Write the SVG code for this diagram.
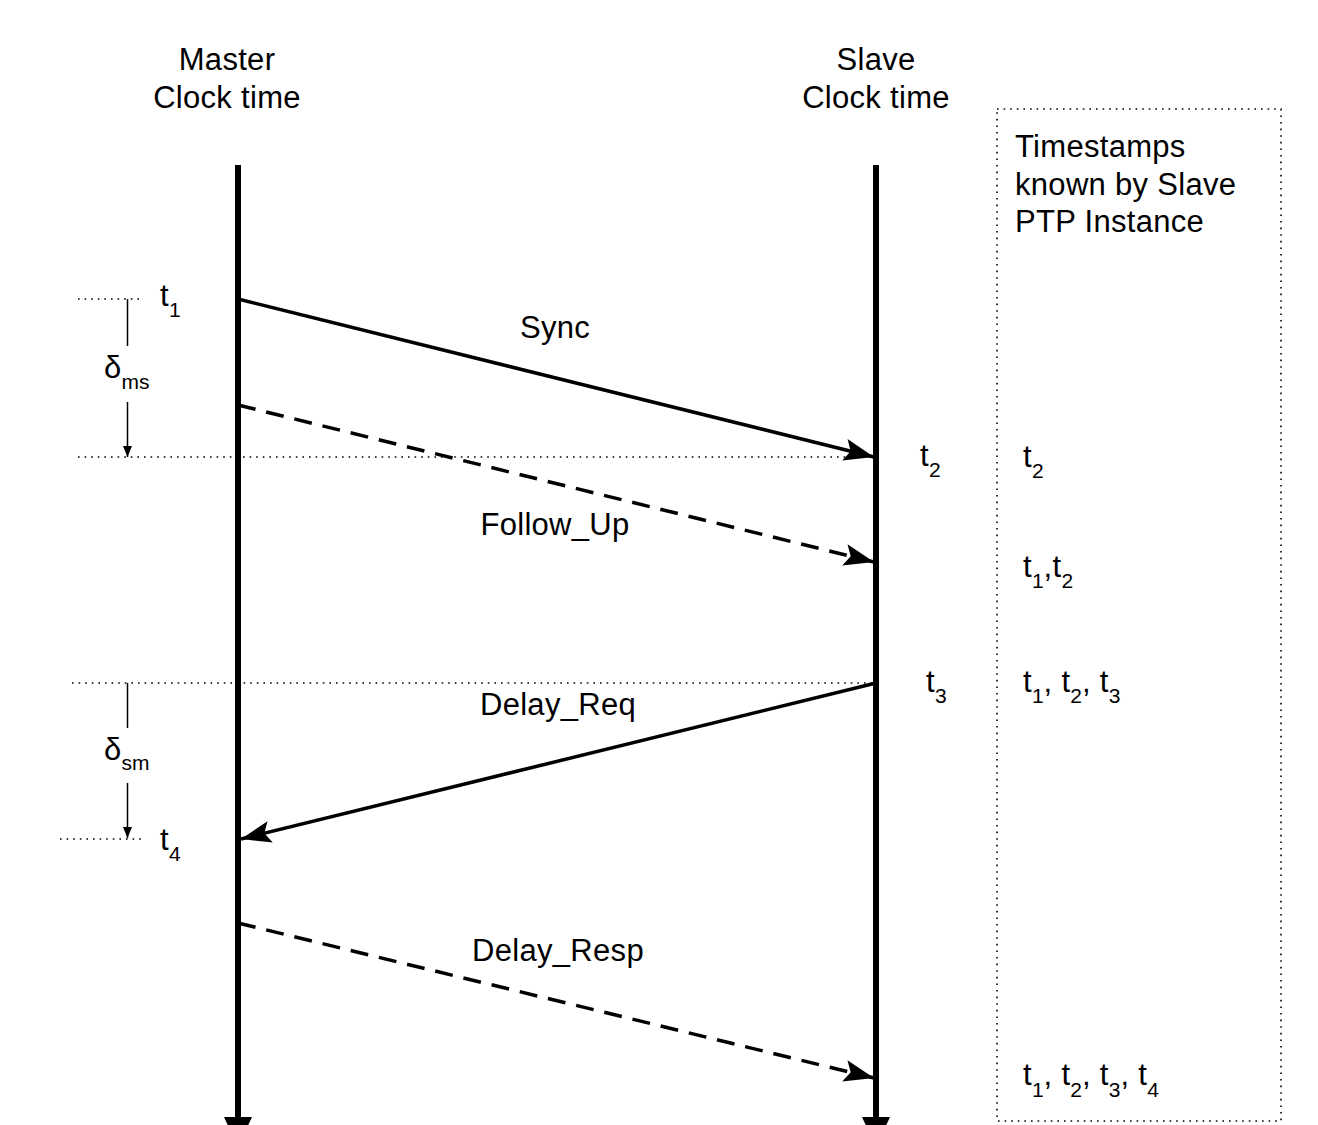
<svg xmlns="http://www.w3.org/2000/svg" width="1318" height="1125" viewBox="0 0 1318 1125">
<style>
text{font-family:"Liberation Sans",Arial,sans-serif;fill:#000}
.big{font-size:31px;letter-spacing:0.3px}
.sub{font-size:21px;letter-spacing:0}
.life{stroke:#000;stroke-width:6;fill:none}
.msg{stroke:#000;stroke-width:3.5;fill:none}
.dash{stroke-dasharray:18 11}
.dot{stroke:#000;stroke-width:1.6;stroke-dasharray:1.6 5;fill:none}
.thin{stroke:#000;stroke-width:1.5;fill:none}
</style>
<defs>
<marker id="ah" markerUnits="userSpaceOnUse" markerWidth="32" markerHeight="26" viewBox="0 0 32 26" refX="30" refY="13" orient="auto">
<path d="M0,2 L30,13 L0,24 L6,13 Z" fill="#000"/>
</marker>
<marker id="ahs" markerUnits="userSpaceOnUse" markerWidth="12" markerHeight="12" viewBox="0 0 12 12" refX="11" refY="6" orient="auto">
<path d="M0,1.5 L11,6 L0,10.5 Z" fill="#000"/>
</marker>
<marker id="ahl" markerUnits="userSpaceOnUse" markerWidth="32" markerHeight="32" viewBox="0 0 32 32" refX="2" refY="16" orient="auto">
<path d="M0,2 L30,16 L0,30 Z" fill="#000"/>
</marker>
</defs>
<rect width="1318" height="1125" fill="#fff"/>

<g id="master">
<text class="big" x="227" y="70" text-anchor="middle">Master</text>
<text class="big" x="227" y="108" text-anchor="middle">Clock time</text>
<line class="life" x1="238" y1="165" x2="238" y2="1119" marker-end="url(#ahl)"/>
</g>
<g id="slave">
<text class="big" x="876" y="70" text-anchor="middle">Slave</text>
<text class="big" x="876" y="108" text-anchor="middle">Clock time</text>
<line class="life" x1="876" y1="165" x2="876" y2="1119" marker-end="url(#ahl)"/>
</g>

<g id="timestamps-box">
<rect class="dot" x="997" y="109" width="284" height="1012"/>
<text class="big" x="1015" y="157">Timestamps</text>
<text class="big" x="1015" y="195">known by Slave</text>
<text class="big" x="1015" y="232">PTP Instance</text>
<text class="big" x="1023" y="467">t<tspan class="sub" dy="11">2</tspan></text>
<text class="big" x="1023" y="577">t<tspan class="sub" dy="11">1</tspan><tspan dy="-11">,t</tspan><tspan class="sub" dy="11">2</tspan></text>
<text class="big" x="1023" y="692">t<tspan class="sub" dy="11">1</tspan><tspan dy="-11">, t</tspan><tspan class="sub" dy="11">2</tspan><tspan dy="-11">, t</tspan><tspan class="sub" dy="11">3</tspan></text>
<text class="big" x="1023" y="1085">t<tspan class="sub" dy="12">1</tspan><tspan dy="-12">, t</tspan><tspan class="sub" dy="12">2</tspan><tspan dy="-12">, t</tspan><tspan class="sub" dy="12">3</tspan><tspan dy="-12">, t</tspan><tspan class="sub" dy="12">4</tspan></text>
</g>

<g id="time-labels">
<text class="big" x="160" y="306">t<tspan class="sub" dy="11">1</tspan></text>
<text class="big" x="920" y="466">t<tspan class="sub" dy="11">2</tspan></text>
<text class="big" x="926" y="692">t<tspan class="sub" dy="11">3</tspan></text>
<text class="big" x="160" y="850">t<tspan class="sub" dy="11">4</tspan></text>
<text class="big" x="104" y="378">δ<tspan class="sub" dy="11">ms</tspan></text>
<text class="big" x="104" y="760">δ<tspan class="sub" dy="10">sm</tspan></text>
</g>

<g id="connectors">
<line class="dot" x1="78" y1="299" x2="142" y2="299"/>
<line class="dot" x1="78" y1="457" x2="873" y2="457"/>
<line class="dot" x1="72" y1="683" x2="873" y2="683"/>
<line class="dot" x1="60" y1="839" x2="142" y2="839"/>
<line class="thin" x1="127.5" y1="299" x2="127.5" y2="346"/>
<line class="thin" x1="127.5" y1="402" x2="127.5" y2="457" marker-end="url(#ahs)"/>
<line class="thin" x1="127.5" y1="683" x2="127.5" y2="728"/>
<line class="thin" x1="127.5" y1="783" x2="127.5" y2="838" marker-end="url(#ahs)"/>
<line class="msg" x1="238" y1="299" x2="874" y2="457" marker-end="url(#ah)"/>
<line class="msg dash" x1="238" y1="405" x2="874" y2="562" marker-end="url(#ah)"/>
<line class="msg" x1="876" y1="683" x2="241" y2="839" marker-end="url(#ah)"/>
<line class="msg dash" x1="238" y1="923" x2="874" y2="1078" marker-end="url(#ah)"/>
<text class="big" x="555" y="338" text-anchor="middle">Sync</text>
<text class="big" x="555" y="535" text-anchor="middle">Follow_Up</text>
<text class="big" x="558" y="715" text-anchor="middle">Delay_Req</text>
<text class="big" x="558" y="961" text-anchor="middle">Delay_Resp</text>
</g>
</svg>
